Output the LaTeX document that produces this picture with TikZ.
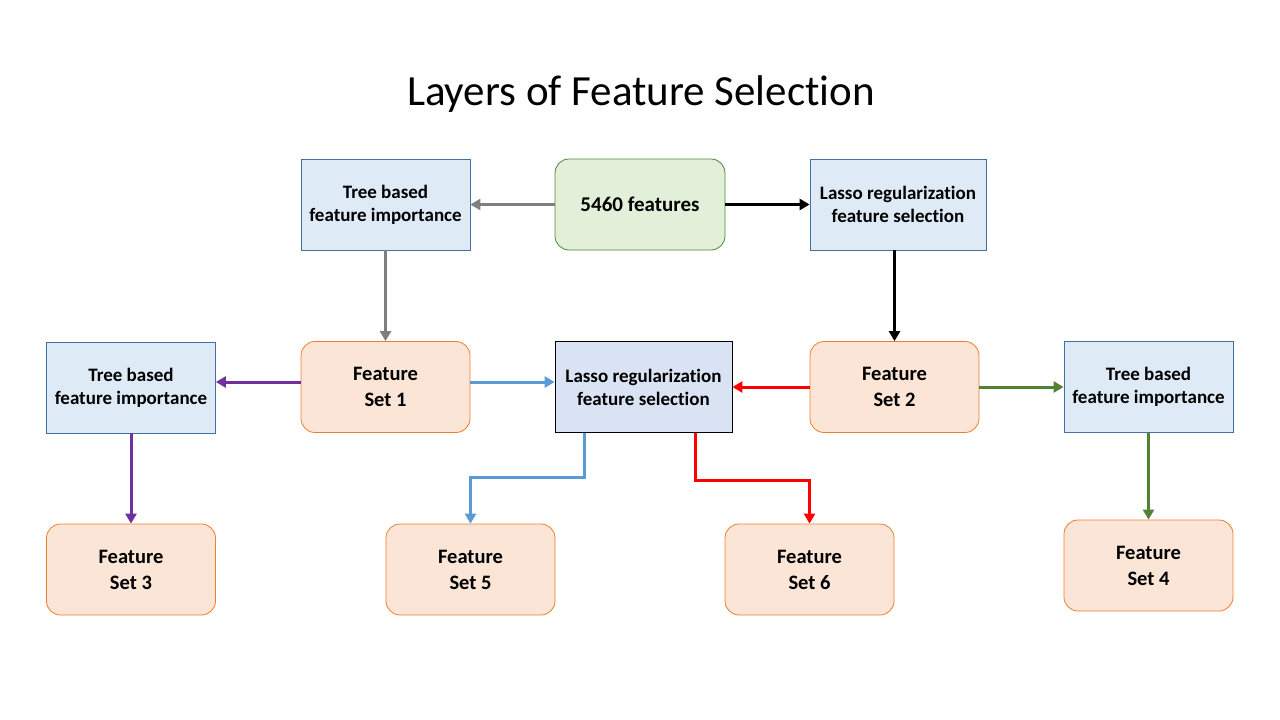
\documentclass[tikz,border=0pt]{standalone}
\usepackage{fontspec}
\setmainfont{Carlito}[Ligatures=NoCommon]
\usepackage{tikz}
\usetikzlibrary{arrows.meta, positioning, calc}
\definecolor{treeblue}{RGB}{222, 235, 247}
\definecolor{treeedge}{RGB}{65, 113, 156}
\definecolor{lassoblue}{RGB}{218, 227, 243}
\definecolor{rootgreen}{RGB}{226, 240, 217}
\definecolor{greenedge}{RGB}{84, 130, 53}
\definecolor{setfill}{RGB}{251, 229, 214}
\definecolor{setedge}{RGB}{237, 125, 49}
\definecolor{arrowgray}{RGB}{127, 127, 127}
\definecolor{arrowpurple}{RGB}{112, 48, 160}
\definecolor{arrowblue}{RGB}{91, 155, 213}

\begin{document}
\begin{tikzpicture}[x=1pt, y=-1pt,
  selbox/.style={draw=treeedge, fill=treeblue, line width=0.8pt, minimum width=169pt, minimum height=91pt, inner sep=2pt, align=center, font=\fontsize{19}{23}\selectfont\bfseries},
  lassobox/.style={selbox, draw=black, fill=lassoblue, minimum width=177pt},
  setbox/.style={draw=setedge, fill=setfill, rounded corners=14pt, line width=0.8pt, minimum width=169pt, minimum height=91pt, inner sep=2pt, align=center, font=\fontsize{20.5}{26}\selectfont\bfseries},
  flow/.style={line width=3pt, -{Triangle[length=10pt, width=11pt]}}]
  \useasboundingbox (0,0) rectangle (1280,720);

  \node (title) at (641,94) {\fontsize{43}{50}\selectfont Layers of Feature Selection};

  % top layer
  \node[setbox, draw=greenedge, fill=rootgreen, minimum width=170pt, font=\fontsize{21}{26}\selectfont\bfseries] (root) at (640,204.5) {5460 features};
  \node[selbox] (treeA) at (385.5,204.5) {Tree based\\feature importance};
  \node[selbox, minimum width=176pt] (lassoA) at (898,204.5) {Lasso regularization\\feature selection};

  % middle layer
  \node[setbox] (set1) at (385.5,387) {Feature\\Set 1};
  \node[setbox] (set2) at (894.5,387) {Feature\\Set 2};
  \node[selbox] (treeB) at (131,387.5) {Tree based\\feature importance};
  \node[lassobox] (lassoB) at (643.5,387) {Lasso regularization\\feature selection};
  \node[selbox] (treeC) at (1148.5,387) {Tree based\\feature importance};

  % bottom layer
  \node[setbox] (set3) at (131,569.5) {Feature\\Set 3};
  \node[setbox] (set5) at (470.5,569.5) {Feature\\Set 5};
  \node[setbox] (set6) at (809.5,569.5) {Feature\\Set 6};
  \node[setbox] (set4) at (1148.5,565.5) {Feature\\Set 4};

  % arrows
  \draw[flow, arrowgray] (root.west) -- (treeA.east);
  \draw[flow, arrowgray] (treeA.south) -- (set1.north);
  \draw[flow, black] (root.east) -- (lassoA.west);
  \draw[flow, black] (lassoA.south -| set2.north) -- (set2.north);
  \draw[flow, arrowpurple] ([yshift=5pt]set1.west) -- ([yshift=5pt]set1.west -| treeB.east);
  \draw[flow, arrowpurple] (treeB.south) -- (set3.north);
  \draw[flow, arrowblue] ([yshift=5pt]set1.east) -- ([yshift=5pt]set1.east -| lassoB.west);
  \draw[flow, arrowblue] ([xshift=-59pt]lassoB.south) |- ($(set5.north)+(0,-46)$) -- (set5.north);
  \draw[flow, red] (set2.west) -- (set2.west -| lassoB.east);
  \draw[flow, red] ([xshift=52pt]lassoB.south) |- ($(set6.north)+(0,-43)$) -- (set6.north);
  \draw[flow, greenedge] (set2.east) -- (treeC.west);
  \draw[flow, greenedge] (treeC.south) -- (set4.north);
\end{tikzpicture}
\end{document}
